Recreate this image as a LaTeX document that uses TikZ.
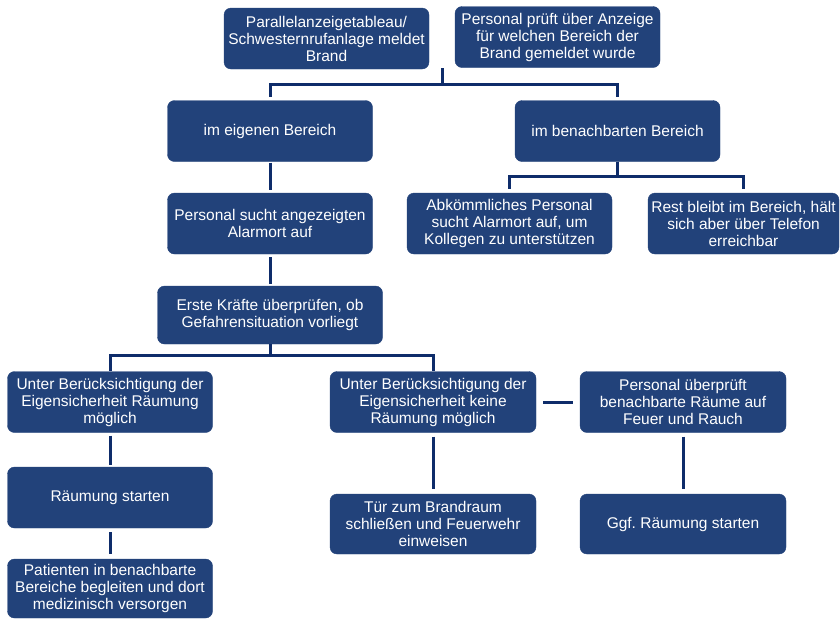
\documentclass[tikz,border=0pt]{standalone}
\usepackage{fontspec}
\setmainfont{Liberation Sans}
\usetikzlibrary{calc}
\frenchspacing

\definecolor{boxblue}{RGB}{34,66,122}
\definecolor{lineblue}{RGB}{14,44,106}

\tikzset{
  box/.style={draw=boxblue, fill=boxblue, rounded corners=7pt, text=white,
    align=center, inner sep=0pt, minimum width=205pt, minimum height=61pt,
    font=\fontsize{15.5}{17}\selectfont},
  link/.style={draw=lineblue, line width=3pt},
}

\begin{document}
\begin{tikzpicture}[x=1pt,y=-1pt]
    \useasboundingbox (0,0) rectangle (840,619);

    % top row
    \node [box] (alarm) at (326.5,38.5) {Parallelanzeigetableau/\\Schwesternrufanlage meldet\\Brand};
    \node [box] (check) at (557.5,37) {Personal prüft über Anzeige\\für welchen Bereich der\\Brand gemeldet wurde};
    \coordinate (fork) at ($(alarm.south east)!0.5!(check.south west)$);

    \node [box] (own) at (270,131) {im eigenen Bereich};
    \node [box] (near) at (617.5,131) {im benachbarten Bereich};

    \draw [link, shorten >=3pt] (fork) -- ++(0,16) -| (own.north);
    \draw [link, shorten >=3pt] (fork) -- ++(0,16) -| (near.north);

    % eigener Bereich
    \node [box] (seek) at (270,223.5) {Personal sucht angezeigten\\Alarmort auf};
    \node [box, minimum width=225pt, minimum height=58pt] (first) at (270,315)
      {Erste Kräfte überprüfen, ob\\Gefahrensituation vorliegt};
    \draw [link, shorten <=1pt, shorten >=3pt] (own.south) -- (seek.north);
    \draw [link, shorten <=3pt, shorten >=2pt] (seek.south) -- (first.north);

    % benachbarter Bereich
    \node [box] (help) at (509.5,223.5) {Abkömmliches Personal\\sucht Alarmort auf, um\\Kollegen zu unterstützen};
    \node [box, minimum width=191pt] (rest) at (743.5,223.5) {Rest bleibt im Bereich, hält\\sich aber über Telefon\\erreichbar};
    \draw [link, shorten >=4pt] (near.south) -- ++(0,15) -| (help.north);
    \draw [link, shorten >=4pt] (near.south) -- ++(0,15) -| (rest.north);

    % Raeumung
    \node [box] (yes) at (110,402) {Unter Berücksichtigung der\\Eigensicherheit Räumung\\möglich};
    \node [box, minimum width=206pt] (no) at (433,402) {Unter Berücksichtigung der\\Eigensicherheit keine\\Räumung möglich};
    \node [box, minimum width=206pt] (rooms) at (683,402) {Personal überprüft\\benachbarte Räume auf\\Feuer und Rauch};
    \draw [link] (first.south) -- ++(0,11) -| (yes.north);
    \draw [link] (first.south) -- ++(0,11) -| (no.north);
    \draw [link, shorten <=7pt, shorten >=7pt] (no.east) -- (rooms.west);

    \node [box] (start) at (110,497.5) {Räumung starten};
    \node [box, minimum height=59pt] (care) at (110,588.5) {Patienten in benachbarte\\Bereiche begleiten und dort\\medizinisch versorgen};
    \draw [link, shorten <=3pt, shorten >=2pt] (yes.south) -- (start.north);
    \draw [link, shorten <=4pt, shorten >=5pt] (start.south) -- (care.north);

    \node [box, minimum width=206pt, minimum height=60pt] (door) at (433,524) {Tür zum Brandraum\\schließen und Feuerwehr\\einweisen};
    \node [box, minimum width=206pt, minimum height=60pt] (maybe) at (683,524) {Ggf. Räumung starten};
    \draw [link, shorten <=4pt, shorten >=5pt] (no.south) -- (door.north);
    \draw [link, shorten <=4pt, shorten >=5pt] (rooms.south) -- (maybe.north);
\end{tikzpicture}
\end{document}
